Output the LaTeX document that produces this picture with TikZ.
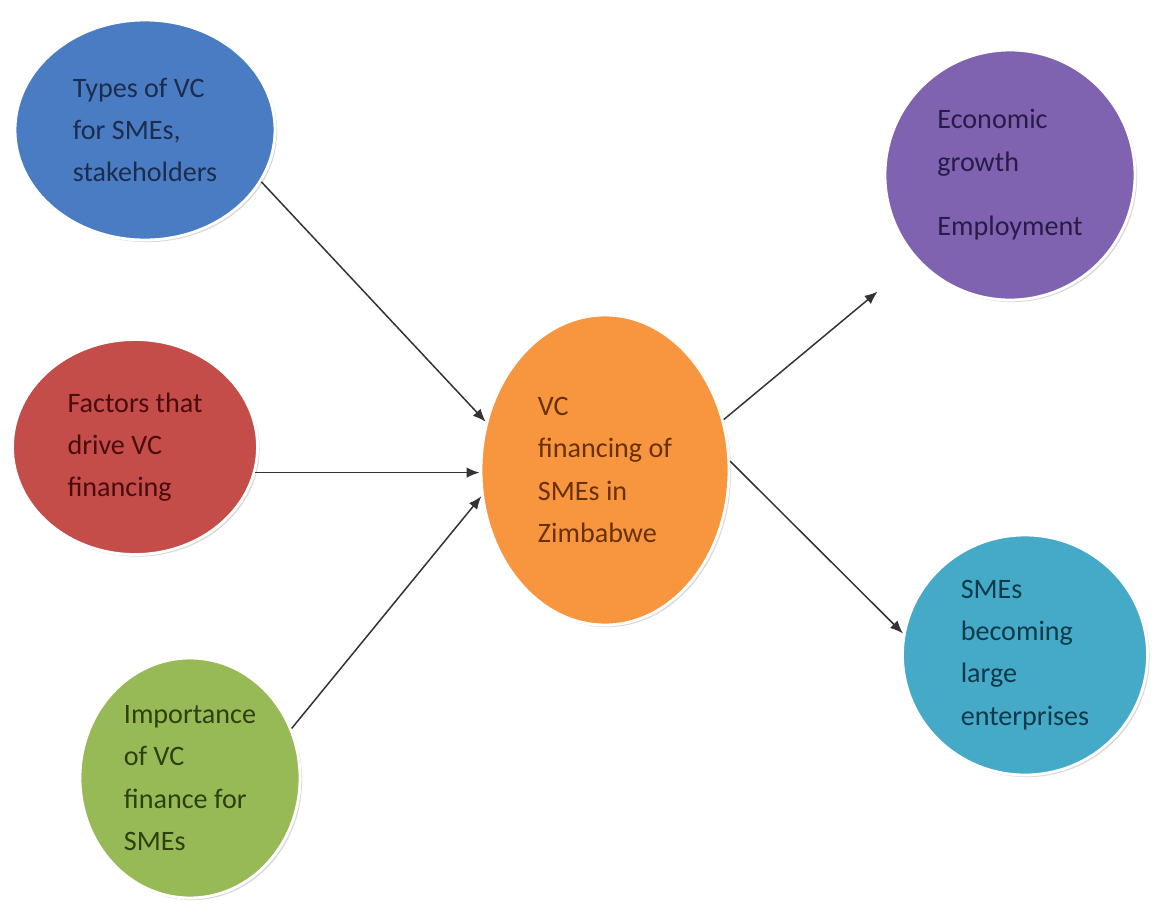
\documentclass[tikz,border=0pt]{standalone}
\usepackage{fontspec}
\setmainfont{Carlito}
\usetikzlibrary{shapes.geometric,arrows.meta,shadows}

\definecolor{typesfill}{HTML}{4A7CC4}
\definecolor{typestext}{HTML}{1C2C4C}
\definecolor{factorsfill}{HTML}{C44C49}
\definecolor{factorstext}{HTML}{4A0C0C}
\definecolor{importfill}{HTML}{98BA56}
\definecolor{importtext}{HTML}{2E400F}
\definecolor{vcfill}{HTML}{F7963F}
\definecolor{vctext}{HTML}{6A3000}
\definecolor{econfill}{HTML}{7F62B0}
\definecolor{econtext}{HTML}{2A1A48}
\definecolor{smesfill}{HTML}{44AAC8}
\definecolor{smestext}{HTML}{0E3A4A}

\begin{document}
\begin{tikzpicture}[%
      x=0.2mm, y=-0.2mm,
      bubble/.style={ellipse, draw=white, line width=1.6pt, inner sep=0pt,
        align=left, font=\fontsize{16}{24}\selectfont,
        drop shadow={opacity=0.3, shadow xshift=1.2pt, shadow yshift=-1.2pt}},
      link/.style={draw=black!80, line width=0.85pt, -{Latex[length=2.6mm,width=2.1mm]}},
      ]
      \useasboundingbox (0,0) rectangle (1154,922);

      \node [bubble, fill=typesfill, text=typestext,
             minimum width=52mm, minimum height=44mm] (types) at (145,130)
             {Types of VC\\for SMEs,\\stakeholders};
      \node [bubble, fill=factorsfill, text=factorstext,
             minimum width=49mm, minimum height=43mm] (factors) at (135,447)
             {Factors that\\drive VC\\financing};
      \node [bubble, fill=importfill, text=importtext,
             minimum width=44mm, minimum height=48mm] (import) at (190,778)
             {Importance\\of VC\\finance for\\SMEs};
      \node [bubble, fill=vcfill, text=vctext,
             minimum width=49.6mm, minimum height=62mm] (vc) at (605,470)
             {VC\\financing of\\SMEs in\\Zimbabwe};
      \node [bubble, fill=econfill, text=econtext,
             minimum width=50mm, minimum height=50mm] (econ) at (1010,175)
             {Economic\\growth\\[0.8em]Employment};
      \node [bubble, fill=smesfill, text=smestext,
             minimum width=49mm, minimum height=48mm] (smes) at (1025,655)
             {SMEs\\becoming\\large\\enterprises};

      \draw [link] (types.-24) -- (vc.158);
      \draw [link] (factors.-12) -- (factors.-12 -| vc.west);
      \draw [link] (import.26) -- (vc.192);
      \draw [link, shorten >=10mm] (vc.23) -- (econ.222);
      \draw [link] (vc.4) -- (smes.170);
\end{tikzpicture}
\end{document}
